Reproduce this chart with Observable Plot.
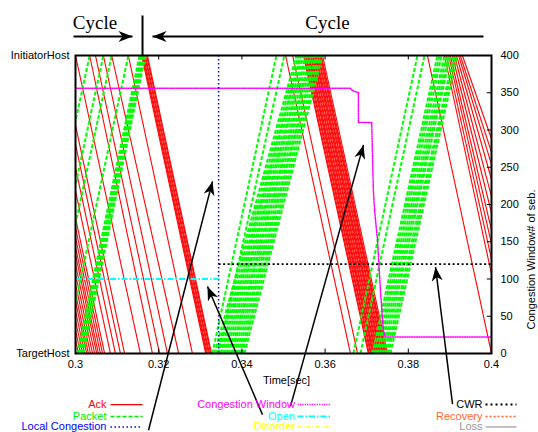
<!DOCTYPE html>
<html>
<head>
<meta charset="utf-8">
<script src="https://cdn.jsdelivr.net/npm/d3@7"></script>
<script src="https://cdn.jsdelivr.net/npm/@observablehq/plot@0.6"></script>
<style>
  html, body { margin: 0; padding: 0; background: white; }
  svg { display: block; }
</style>
</head>
<body>
<div id="chart"></div>
<script>
// ---------- axes / labels ----------
const xTicks = [0.3, 0.32, 0.34, 0.36, 0.38, 0.4];
const yTicks = [0, 50, 100, 150, 200, 250, 300, 350, 400];
const hostNames = ["InitiatorHost", "TargetHost"];
const hostLevels = [400, 0];

// ---------- Ack: leaves InitiatorHost (top) -> arrives TargetHost (bottom) ----------
const ackSent = [
  0.2853,0.2858,0.2863,0.2868,0.2873,0.2877,0.2882,0.2887,0.2892,0.2897,0.2901,0.2906,0.2911,0.2916,
  0.2930,0.2942,0.2954,0.2964,
  0.3000,0.3034,0.3048,0.3067,0.3087,0.3127,
  0.3159,0.3161,0.3163,0.3166,0.3168,0.3171,0.3173,
  0.3505,0.3522,
  0.3548,0.3550,0.3553,0.3555,0.3558,0.3560,0.3562,0.3565,0.3567,0.3570,
  0.3572,0.3575,0.3577,0.3579,0.3582,0.3584,0.3587,0.3589,0.3591,0.3594,
  0.3846,
  0.3887,0.3892,0.3897,0.3901,0.3906,0.3911,0.3916,0.3921,0.3925,0.3930
];
const ackRecv = [
  0.3007,0.3012,0.3017,0.3022,0.3027,0.3031,0.3036,0.3041,0.3046,0.3051,0.3055,0.3060,0.3065,0.3070,
  0.3084,0.3096,0.3108,0.3118,
  0.3156,0.3185,0.3202,0.3221,0.3248,0.3281,
  0.3313,0.3315,0.3317,0.3320,0.3322,0.3325,0.3327,
  0.3661,0.3678,
  0.3704,0.3706,0.3709,0.3711,0.3714,0.3716,0.3718,0.3721,0.3723,0.3726,
  0.3728,0.3731,0.3733,0.3735,0.3738,0.3740,0.3743,0.3745,0.3747,0.3750,
  0.4000,
  0.4041,0.4050,0.4060,0.4070,0.4084,0.4099,0.4118,0.4137,0.4156,0.4180
];

// ---------- Packet: leaves TargetHost (bottom) -> arrives InitiatorHost (top) ----------
const pktSent = [
  0.2880,0.2913,0.2933,0.2974,
  0.3005,0.3007,0.3010,0.3012,0.3014,0.3017,0.3019,
  0.3329,0.3344,
  0.3334,0.3339,0.3344,0.3349,0.3353,0.3358,0.3363,0.3368,0.3373,0.3377,0.3382,0.3387,0.3392,0.3397,0.3401,0.3406,
  0.3668,0.3685,
  0.3714,0.3719,0.3724,0.3728,0.3733,0.3738,0.3743,0.3748,0.3752,0.3757
];
const pktRecv = [
  0.3034,0.3067,0.3087,0.3127,
  0.3154,0.3156,0.3159,0.3161,0.3163,0.3166,0.3168,
  0.3483,0.3502,
  0.3531,0.3536,0.3541,0.3543,0.3548,0.3553,0.3555,0.3560,0.3565,0.3567,0.3572,0.3577,0.3579,0.3584,0.3589,0.3594,
  0.3822,0.3839,
  0.3870,0.3875,0.3880,0.3887,0.3892,0.3897,0.3901,0.3909,0.3913,0.3918
];

// ---------- Congestion window ----------
const cwndTime  = [0.3000,0.3661,0.3666,0.3680,0.3680,0.3712,0.3716,0.3719,0.3726,0.3733,0.3740,0.3745,0.4000];
const cwndValue = [356,   356,   353,   350,   310,   310,   219,   192,   152,   85,    31,    22,    22];

// ---------- states ----------
const stateNames = ["Open", "CWR"];
const stateStart = [0.3000, 0.3344];
const stateEnd   = [0.3344, 0.4000];
const stateLevel = [100, 120];
const localCongestionTime = [0.3344];

// ---------- annotations ----------
const cycleLabels = ["Cycle", "Cycle"];
const cycleLabelX = [0.30469, 0.36058];
const cycleLabelY = [444, 444];
const cycleArrowFrom = [[0.29952, 425.5], [0.39808, 425.5]];
const cycleArrowTo   = [[0.31370, 425.5], [0.31851, 425.5]];
const cycleDivider = [[0.31611, 453.7], [0.31611, 400]];
const noteFrom = [[0.31755, -103], [0.34495, -82], [0.35168, -71], [0.39063, -68]];
const noteTo   = [[0.33293, 231],  [0.33173, 90],  [0.36923, 280], [0.38654, 116]];

// ---------- legend ----------
const legendLabels = ["Ack","Packet","Local Congestion","Congestion Window","Open","Disorder","CWR","Recovery","Loss"];
const legendColors = ["#ff0000","#00ee00","#0000ff","#ff00ff","#00ffff","#ffff00","#000000","#ff6633","#999999"];
const legendDash   = ["none","4,2","1.5,2.5","1.2,1.2","6,2,1.5,2","4,2,1,2","2,3","2,2","none"];
const legendWidth  = [1.2,1.5,1.5,1.5,2,1.5,2,1.5,1.2];
const legendCol = [0,0,0,1,1,1,2,2,2];
const legendRow = [0,1,2,0,1,2,0,1,2];
const colTextEnd   = [0.30745, 0.35276, 0.39784];
const colLineStart = [0.30841, 0.35337, 0.39856];
const colLineEnd   = [0.31611, 0.36130, 0.40601];
const rowLevel = [-68.5, -84.6, -98.6];

// ---------- build tables ----------
const acks = ackSent.map((t, i) => ({t0: t, t1: ackRecv[i]}));
const pkts = pktSent.map((t, i) => ({t0: t, t1: pktRecv[i]}));
const cwnd = cwndTime.map((t, i) => ({t, v: cwndValue[i]}));
const states = stateNames.map((s, i) => ({s, a: stateStart[i], b: stateEnd[i], v: stateLevel[i]}));
const hosts = hostNames.map((h, i) => ({h, v: hostLevels[i]}));
const cycles = cycleLabels.map((c, i) => ({c, x: cycleLabelX[i], y: cycleLabelY[i]}));
const cycArrows = cycleArrowFrom.map((f, i) => ({x1: f[0], y1: f[1], x2: cycleArrowTo[i][0], y2: cycleArrowTo[i][1]}));
const notes = noteFrom.map((f, i) => ({x1: f[0], y1: f[1], x2: noteTo[i][0], y2: noteTo[i][1]}));

const legendMarks = [];
legendLabels.forEach((lab, i) => {
  const c = legendCol[i], r = legendRow[i];
  legendMarks.push(Plot.text([lab], {
    x: colTextEnd[c], y: rowLevel[r], text: d => d, textAnchor: "end",
    fill: legendColors[i], fontSize: 11
  }));
  legendMarks.push(Plot.link([lab], {
    x1: colLineStart[c], x2: colLineEnd[c], y1: rowLevel[r], y2: rowLevel[r],
    stroke: legendColors[i], strokeWidth: legendWidth[i],
    strokeDasharray: legendDash[i] === "none" ? null : legendDash[i]
  }));
});

const ARROW = "#010101"; // near-black, used to find the annotation arrows

const svg = Plot.plot({
  width: 538,
  height: 432,
  marginLeft: 75,
  marginRight: 47,
  marginTop: 55,
  marginBottom: 79,
  style: {fontFamily: "'Liberation Sans', Arial, sans-serif", fontSize: "11px", background: "white", color: "black", overflow: "visible"},
  x: {domain: [0.3, 0.4], ticks: xTicks, tickSize: 0, tickPadding: 7, tickFormat: d => String(d), label: null},
  y: {domain: [0, 400], axis: "right", ticks: yTicks, tickSize: 0, tickPadding: 9, label: null},
  marks: [
    // Ack lines
    Plot.link(acks, {x1: "t0", y1: 400, x2: "t1", y2: 0, stroke: "#ff0000", strokeWidth: 1.1, clip: true}),
    // Packet lines
    Plot.link(pkts, {x1: "t0", y1: 0, x2: "t1", y2: 400, stroke: "#00ff00", strokeWidth: 2, strokeDasharray: "4,2", clip: true}),
    // Congestion window
    Plot.line(cwnd, {x: "t", y: "v", stroke: "#ff00ff", strokeWidth: 1.5, strokeDasharray: "1.2,1.2", clip: true}),
    // Local congestion
    Plot.ruleX(localCongestionTime, {stroke: "#0000ff", strokeWidth: 1.5, strokeDasharray: "1.5,2.5"}),
    // Open state
    Plot.link(states.filter(d => d.s === "Open"), {x1: "a", x2: "b", y1: "v", y2: "v", stroke: "#00ffff", strokeWidth: 1.8, strokeDasharray: "6,2,1.5,2"}),
    // CWR state
    Plot.link(states.filter(d => d.s === "CWR"), {x1: "a", x2: "b", y1: "v", y2: "v", stroke: "#000000", strokeWidth: 1.8, strokeDasharray: "2,2.5"}),
    // inner ticks
    Plot.ruleX(xTicks, {y1: 0, y2: 6, stroke: "black", strokeWidth: 1}),
    Plot.ruleX(xTicks, {y1: 394, y2: 400, stroke: "black", strokeWidth: 1}),
    Plot.ruleY(yTicks, {x1: 0.3990, x2: 0.4, stroke: "black", strokeWidth: 1}),
    Plot.frame({stroke: "black", strokeWidth: 2}),
    // host labels
    Plot.text(hosts, {x: 0.3, y: "v", text: "h", textAnchor: "end", dx: -6, fontSize: 11}),
    // axis titles
    Plot.text(["Time[sec]"], {frameAnchor: "bottom", dy: 30, dx: 3, fontSize: 11}),
    Plot.text(["Congestion Window# of seb."], {frameAnchor: "right", rotate: -90, dx: 40, dy: -15, fontSize: 11}),
    // cycle annotations
    Plot.text(cycles, {x: "x", y: "y", text: "c", fontFamily: "'Liberation Serif', 'DejaVu Serif', serif", fontSize: 19}),
    Plot.link(cycArrows, {x1: "x1", y1: "y1", x2: "x2", y2: "y2", stroke: ARROW, strokeWidth: 2}),
    Plot.link([0], {x1: cycleDivider[0][0], y1: cycleDivider[0][1], x2: cycleDivider[1][0], y2: cycleDivider[1][1], stroke: "black", strokeWidth: 2}),
    // pointer arrows
    Plot.link(notes, {x1: "x1", y1: "y1", x2: "x2", y2: "y2", stroke: ARROW, strokeWidth: 1.5}),
    ...legendMarks
  ]
});

// filled arrow heads
const root = d3.select(svg);
const defs = root.append("defs");
defs.append("marker")
  .attr("id", "ahead")
  .attr("viewBox", "-15 -6 16 12")
  .attr("markerWidth", 16)
  .attr("markerHeight", 12)
  .attr("markerUnits", "userSpaceOnUse")
  .attr("orient", "auto")
  .attr("refX", 0)
  .attr("refY", 0)
  .append("path")
  .attr("d", "M0,0L-14,-5.5L-10,0L-14,5.5Z")
  .attr("fill", "black");
root.selectAll("g").filter(function() {
  return this.getAttribute("stroke") === ARROW;
}).selectAll("path").attr("marker-end", "url(#ahead)");
root.selectAll("path").filter(function() {
  return this.getAttribute("stroke") === ARROW;
}).attr("marker-end", "url(#ahead)");

document.getElementById("chart").appendChild(svg);
</script>
</body>
</html>
